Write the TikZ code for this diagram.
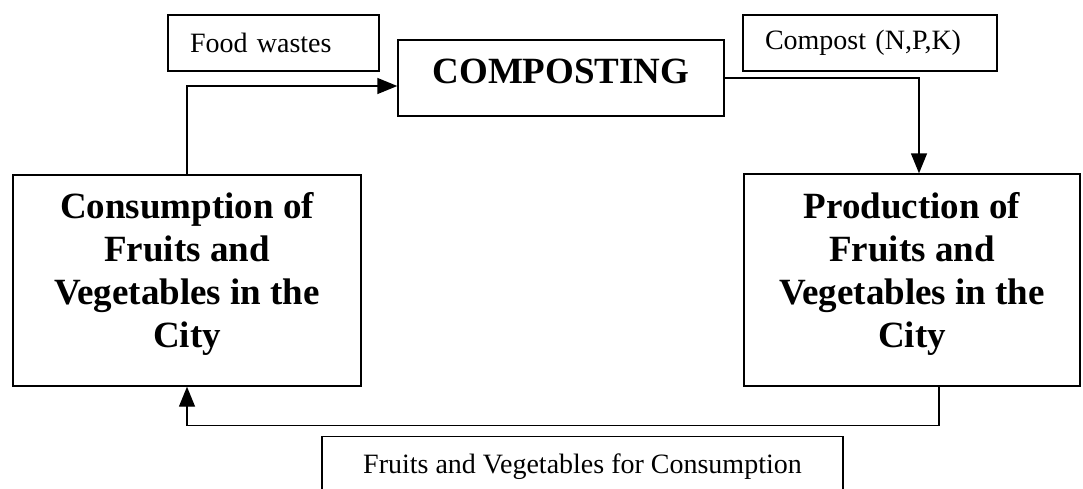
\documentclass[tikz,border=0pt]{standalone}
\usepackage{fontspec}
\setmainfont{Liberation Serif}
\usetikzlibrary{arrows.meta}
\begin{document}
\begin{tikzpicture}[x=1pt, y=-1pt, line width=1.4pt,
    bigbox/.style={draw, align=center, font=\fontsize{37}{43}\selectfont\bfseries},
    labelbox/.style={draw, align=left, inner xsep=22pt, font=\fontsize{28}{34}\selectfont},
    flow/.style={-{Triangle[length=20pt,width=16pt]}}]
  \useasboundingbox (0,0) rectangle (1083,488);
  \clip (0,0) rectangle (1083,488);

  \node[labelbox, text width=167pt, minimum height=56pt] (food) at (273.5,43) {Food wastes};
  \node[labelbox, text width=210pt, minimum height=56pt] (npk) at (870,43) {Compost (N,P,K)};
  \node[draw, minimum width=326pt, minimum height=76pt, text depth=14pt,
        font=\fontsize{37}{44}\selectfont\bfseries] (comp) at (561,78) {COMPOSTING};

  \node[bigbox, minimum width=348pt, minimum height=211pt, text depth=21pt] (cons) at (187,280.5)
    {Consumption of\\Fruits and\\Vegetables in the\\City};
  \node[bigbox, minimum width=336pt, minimum height=212pt, text depth=21pt] (prod) at (912,280)
    {Production of\\Fruits and\\Vegetables in the\\City};

  \node[labelbox, align=center, inner xsep=0pt, minimum width=521pt, minimum height=60pt,
        anchor=north] (fvc) at (582.5,436) {Fruits and Vegetables for Consumption};

  \draw[flow] (cons.north) |- ([yshift=-8pt]comp.west);
  \draw[flow] (comp.east) -| ([xshift=7pt]prod.north);
  \draw[flow] ([xshift=27pt]prod.south) -- ++(0,39) -| (cons.south);
\end{tikzpicture}
\end{document}
